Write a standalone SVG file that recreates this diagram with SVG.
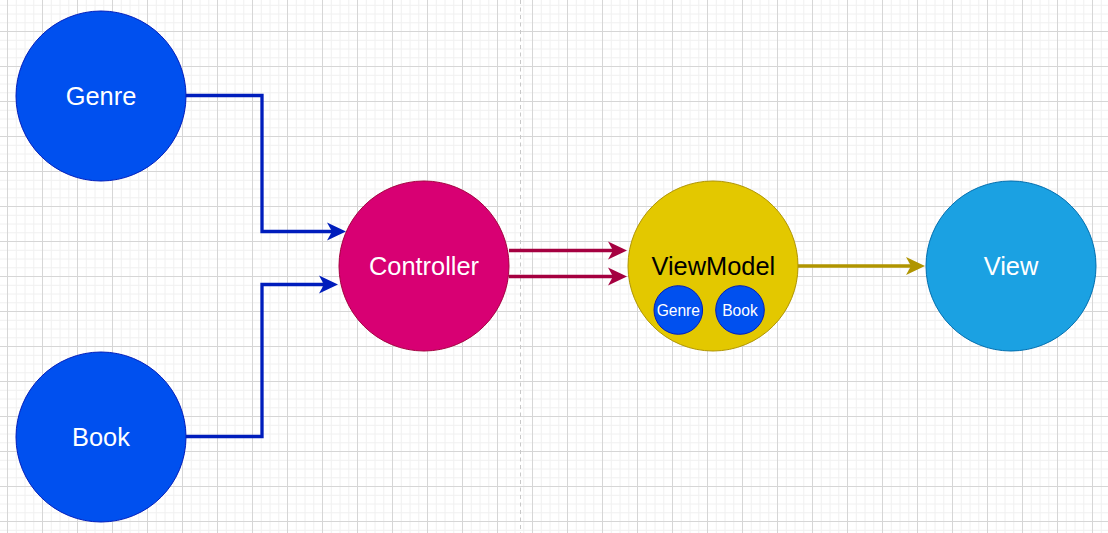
<svg xmlns="http://www.w3.org/2000/svg" width="1108" height="533" viewBox="0 0 1108 533">
  <defs>
    <pattern id="grid" patternUnits="userSpaceOnUse" x="7" y="31" width="35" height="35">
      <g stroke="#f0f0f0" stroke-width="1" fill="none">
        <line x1="9.25" y1="0" x2="9.25" y2="35"/>
        <line x1="18" y1="0" x2="18" y2="35"/>
        <line x1="26.75" y1="0" x2="26.75" y2="35"/>
        <line x1="0" y1="9.25" x2="35" y2="9.25"/>
        <line x1="0" y1="18" x2="35" y2="18"/>
        <line x1="0" y1="26.75" x2="35" y2="26.75"/>
      </g>
      <g stroke="#d6d6d6" stroke-width="1" fill="none">
        <line x1="0.5" y1="0" x2="0.5" y2="35"/>
        <line x1="0" y1="0.5" x2="35" y2="0.5"/>
      </g>
    </pattern>
    <marker id="arrBlue" markerUnits="userSpaceOnUse" viewBox="0 0 19 19" refX="5" refY="9.5" markerWidth="19" markerHeight="19" orient="auto">
      <path d="M0,0.5 L19,9.5 L0,18.5 L5,9.5 Z" fill="#001DBC"/>
    </marker>
    <marker id="arrRed" markerUnits="userSpaceOnUse" viewBox="0 0 19 19" refX="5" refY="9.5" markerWidth="19" markerHeight="19" orient="auto">
      <path d="M0,0.5 L19,9.5 L0,18.5 L5,9.5 Z" fill="#A50040"/>
    </marker>
    <marker id="arrGold" markerUnits="userSpaceOnUse" viewBox="0 0 19 19" refX="5" refY="9.5" markerWidth="19" markerHeight="19" orient="auto">
      <path d="M0,0.5 L19,9.5 L0,18.5 L5,9.5 Z" fill="#B09500"/>
    </marker>
  </defs>
  <style>
    .lbl { font-family: "Liberation Sans", Arial, sans-serif; font-size: 25.4px; text-anchor: middle; fill: #ffffff; }
    .dark { fill: #000000; }
    .small { font-family: "Liberation Sans", Arial, sans-serif; font-size: 15.6px; text-anchor: middle; fill: #ffffff; }
    .blue { fill: #0050ef; stroke: #001DBC; stroke-width: 1; }
    .ctrl { fill: #d80073; stroke: #A50040; stroke-width: 1; }
    .vm { fill: #e3c800; stroke: #B09500; stroke-width: 1; }
    .view { fill: #1ba1e2; stroke: #006EAF; stroke-width: 1; }
    .conn { fill: none; stroke-width: 3.3; }
  </style>

  <rect width="1108" height="533" fill="#ffffff"/>
  <rect width="1108" height="533" fill="url(#grid)"/>

  <line x1="520.5" y1="0" x2="520.5" y2="533" stroke="#c8c8c8" stroke-width="1" stroke-dasharray="4 3.5"/>

  <g id="connectors">
    <path class="conn" d="M186,95.5 H262 V231.5 H332" stroke="#001DBC" marker-end="url(#arrBlue)"/>
    <path class="conn" d="M186,436.5 H262 V284.5 H324" stroke="#001DBC" marker-end="url(#arrBlue)"/>
    <path class="conn" d="M509,250.5 H613" stroke="#A50040" marker-end="url(#arrRed)"/>
    <path class="conn" d="M509,276.5 H613" stroke="#A50040" marker-end="url(#arrRed)"/>
    <path class="conn" d="M798,266 H911" stroke="#B09500" marker-end="url(#arrGold)"/>
  </g>

  <g id="genre">
    <circle class="blue" cx="101" cy="96" r="85"/>
    <text class="lbl" x="101" y="104.5">Genre</text>
  </g>
  <g id="book">
    <circle class="blue" cx="101" cy="437" r="85"/>
    <text class="lbl" x="101" y="445.5">Book</text>
  </g>
  <g id="controller">
    <circle class="ctrl" cx="424" cy="266" r="85"/>
    <text class="lbl" x="424" y="274.5">Controller</text>
  </g>
  <g id="viewmodel">
    <circle class="vm" cx="713" cy="266" r="85"/>
    <text class="lbl dark" x="713.3" y="275">ViewModel</text>
    <g id="vm-genre">
      <circle class="blue" cx="678.3" cy="310" r="24.3"/>
      <text class="small" x="678.3" y="315.7">Genre</text>
    </g>
    <g id="vm-book">
      <circle class="blue" cx="740" cy="310" r="24.3"/>
      <text class="small" x="740" y="315.7">Book</text>
    </g>
  </g>
  <g id="view">
    <circle class="view" cx="1011" cy="266" r="85"/>
    <text class="lbl" x="1011" y="275">View</text>
  </g>
</svg>
